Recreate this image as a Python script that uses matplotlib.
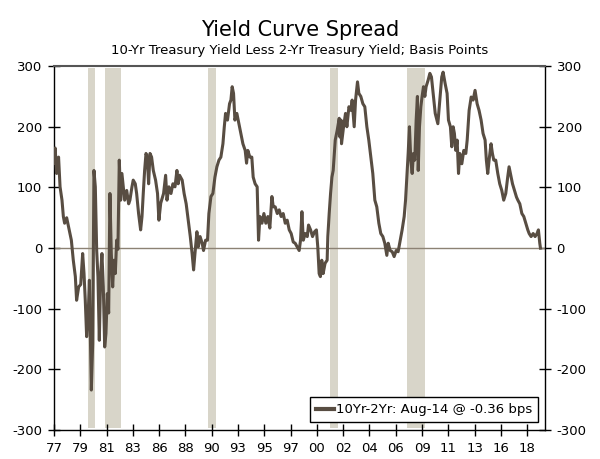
import numpy as np
import matplotlib.pyplot as plt
from matplotlib.ticker import FixedLocator, FixedFormatter

############### Data (decimal year, basis points) ###############
dates = [
    1977.00, 1977.06, 1977.10, 1977.23, 1977.40, 1977.53, 1977.70, 1977.82, 1977.93, 1978.11,
    1978.28, 1978.52, 1978.69, 1978.87, 1978.98, 1979.16, 1979.34, 1979.51, 1979.63, 1979.74,
    1979.86, 1979.98, 1980.10, 1980.27, 1980.39, 1980.50, 1980.62, 1980.74, 1980.85, 1980.97,
    1981.09, 1981.20, 1981.32, 1981.44, 1981.55, 1981.67, 1981.79, 1981.90, 1982.02, 1982.14,
    1982.25, 1982.37, 1982.49, 1982.60, 1982.72, 1982.84, 1982.95, 1983.07, 1983.19, 1983.37,
    1983.54, 1983.65, 1983.83, 1983.94, 1984.12, 1984.24, 1984.41, 1984.59, 1984.71, 1984.82,
    1984.94, 1985.06, 1985.17, 1985.29, 1985.41, 1985.55, 1985.70, 1985.90, 1986.07, 1986.19,
    1986.35, 1986.60, 1986.78, 1986.90, 1987.07, 1987.25, 1987.42, 1987.60, 1987.77, 1987.88,
    1988.00, 1988.23, 1988.40, 1988.58, 1988.76, 1988.94, 1989.10, 1989.23, 1989.35, 1989.52,
    1989.64, 1989.80, 1989.98, 1990.10, 1990.28, 1990.45, 1990.57, 1990.75, 1990.92, 1991.10,
    1991.27, 1991.45, 1991.62, 1991.80, 1991.92, 1992.03, 1992.20, 1992.38, 1992.50, 1992.61,
    1992.73, 1992.85, 1993.02, 1993.20, 1993.37, 1993.55, 1993.75, 1993.87, 1993.98, 1994.16,
    1994.33, 1994.45, 1994.62, 1994.80, 1994.92, 1995.04, 1995.22, 1995.39, 1995.56, 1995.74,
    1995.91, 1996.09, 1996.21, 1996.38, 1996.56, 1996.73, 1996.90, 1997.08, 1997.26, 1997.43,
    1997.61, 1997.78, 1997.96, 1998.13, 1998.31, 1998.48, 1998.60, 1998.72, 1998.84, 1999.01,
    1999.19, 1999.30, 1999.48, 1999.65, 1999.83, 1999.99, 2000.11, 2000.23, 2000.34, 2000.46,
    2000.58, 2000.75, 2000.93, 2000.99, 2001.11, 2001.23, 2001.35, 2001.46, 2001.64, 2001.81,
    2001.99, 2002.05, 2002.15, 2002.19, 2002.37, 2002.54, 2002.66, 2002.84, 2003.01, 2003.12,
    2003.30, 2003.42, 2003.59, 2003.71, 2003.88, 2004.06, 2004.23, 2004.41, 2004.58, 2004.76,
    2004.93, 2005.11, 2005.28, 2005.46, 2005.63, 2005.81, 2005.98, 2006.16, 2006.28, 2006.45,
    2006.63, 2006.80, 2006.98, 2007.15, 2007.33, 2007.50, 2007.68, 2007.80, 2007.91, 2008.03,
    2008.14, 2008.26, 2008.38, 2008.49, 2008.61, 2008.73, 2008.84, 2008.91, 2009.02, 2009.14,
    2009.25, 2009.37, 2009.49, 2009.60, 2009.78, 2009.93, 2010.07, 2010.22, 2010.40, 2010.63,
    2010.80, 2010.97, 2011.09, 2011.27, 2011.44, 2011.56, 2011.73, 2011.85, 2011.97, 2012.08,
    2012.20, 2012.32, 2012.44, 2012.55, 2012.73, 2012.90, 2013.08, 2013.20, 2013.37, 2013.55,
    2013.72, 2013.89, 2014.07, 2014.24, 2014.42, 2014.59, 2014.77, 2014.88, 2015.00, 2015.12,
    2015.29, 2015.41, 2015.53, 2015.70, 2015.88, 2016.05, 2016.23, 2016.40, 2016.58, 2016.75,
    2016.87, 2016.99, 2017.17, 2017.34, 2017.52, 2017.64, 2017.81, 2017.99, 2018.16, 2018.34,
    2018.51, 2018.63, 2018.80, 2018.98, 2019.15, 2019.32, 2019.44, 2019.56, 2019.62,
]

spread = [
    140, 145, 165, 123, 150, 101, 79, 52, 41, 50,
    35, 13, -20, -47, -86, -64, -60, -9, -42, -86,
    -146, -119, -53, -234, -157, 128, 101, -4, -47, -152,
    -42, -9, -64, -163, -141, -75, -107, 90, -9, -64,
    -20, -42, 13, -2, 145, 79, 123, 101, 79, 95,
    73, 79, 101, 112, 106, 90, 57, 30, 52, 90,
    128, 156, 150, 106, 156, 150, 128, 112, 90, 46,
    74, 90, 120, 79, 101, 90, 106, 101, 128, 106,
    120, 112, 90, 73, 46, 19, -9, -36, -9, 27,
    2, 19, 8, -4, 13, 13, 57, 85, 90, 117,
    134, 145, 150, 172, 200, 222, 211, 238, 244, 266,
    255, 211, 222, 205, 189, 172, 161, 140, 161, 150,
    150, 117, 106, 101, 13, 52, 41, 57, 41, 52,
    33, 85, 68, 68, 57, 63, 52, 57, 41, 46,
    30, 24, 10, 8, 2, -4, 13, 60, 13, 24,
    19, 38, 30, 19, 27, 30, 2, -42, -47, -20,
    -42, -25, -20, 19, 57, 90, 117, 128, 178, 194,
    214, 183, 211, 172, 200, 222, 200, 233, 227, 244,
    200, 244, 274, 255, 250, 238, 233, 200, 178, 150,
    123, 79, 68, 41, 24, 19, 8, -12, 8, -4,
    -6, -14, -4, -6, 13, 30, 52, 79, 117, 156,
    200, 145, 123, 156, 145, 211, 250, 128, 200, 233,
    250, 266, 250, 266, 277, 288, 282, 255, 222, 205,
    244, 282, 290, 271, 255, 211, 200, 167, 200, 189,
    161, 178, 123, 156, 139, 161, 156, 178, 227, 249,
    244, 260, 238, 227, 211, 189, 178, 145, 123, 145,
    172, 156, 145, 145, 123, 106, 95, 79, 90, 117,
    134, 123, 106, 95, 84, 79, 73, 57, 52, 41,
    30, 24, 19, 24, 19, 24, 30, 8, 0,
]

recessions = [(1980.0, 1980.55), (1981.5, 1982.9), (1990.5, 1991.2), (2001.2, 2001.9), (2007.9, 2009.5)]

tick_years = ['77', '79', '81', '83', '86', '88', '90', '93', '95', '97',
              '00', '02', '04', '06', '09', '11', '13', '16', '18']
y_ticks = [-300, -200, -100, 0, 100, 200, 300]

############### Plot ###############
plt.rcParams['font.family'] = ['DejaVu Sans']

fig = plt.figure(figsize=(6, 4.59), dpi=100)
ax = fig.add_axes([0.09, 0.063, 0.818, 0.793])

for start, end in recessions:
    ax.axvspan(start, end, ymin=0.005, ymax=0.995, color='#d8d5c9', lw=0, zorder=1)

ax.axhline(0, color='#8c8274', lw=1.0, zorder=2)
ax.plot(dates, spread, color='#584d42', lw=2.2, zorder=3,
        label='10Yr-2Yr: Aug-14 @ -0.36 bps')

ax.set_xlim(1977.0, 2020.0)
ax.set_ylim(-300, 300)

tick_pos = [1977.0 + 2.303 * i for i in range(len(tick_years))]
ax.xaxis.set_major_locator(FixedLocator(tick_pos))
ax.xaxis.set_major_formatter(FixedFormatter(tick_years))
ax.yaxis.set_major_locator(FixedLocator(y_ticks))
ax.yaxis.set_major_formatter(FixedFormatter([str(v) for v in y_ticks]))

ax.tick_params(axis='x', direction='inout', length=9, width=1, labelsize=9.5, pad=4, colors='black')
ax.tick_params(axis='y', direction='inout', length=9, width=1, labelsize=9.5, pad=4,
               left=True, right=True, labelleft=True, labelright=True)

for side in ['left', 'right', 'bottom']:
    ax.spines[side].set_color('black')
    ax.spines[side].set_linewidth(1.0)
ax.spines['top'].set_color('#555555')
ax.spines['top'].set_linewidth(1.5)

leg = ax.legend(loc='lower right', bbox_to_anchor=(0.986, 0.022), borderaxespad=0,
                fontsize=9.5, handlelength=1.4, handletextpad=0.1, borderpad=0.45,
                fancybox=False, framealpha=1, edgecolor='black')
leg.get_frame().set_linewidth(1.0)
for line in leg.get_lines():
    line.set_linewidth(3)

fig.text(0.5, 0.935, 'Yield Curve Spread', ha='center', va='center', fontsize=15)
fig.text(0.5, 0.889, '10-Yr Treasury Yield Less 2-Yr Treasury Yield; Basis Points',
         ha='center', va='center', fontsize=9.5)

fig.savefig('out.png', dpi=100)
